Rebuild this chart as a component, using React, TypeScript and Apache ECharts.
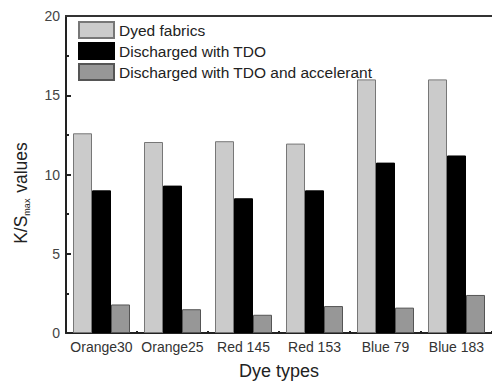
import React, { useEffect, useRef } from "react";
import * as echarts from "echarts";

const categories = ["Orange30", "Orange25", "Red 145", "Red 153", "Blue 79", "Blue 183"];
const dyed = [12.6, 12.05, 12.1, 11.95, 16.0, 16.0];
const discharged = [9.0, 9.3, 8.5, 9.0, 10.75, 11.2];
const accelerant = [1.8, 1.5, 1.15, 1.7, 1.6, 2.4];
const seriesNames = ["Dyed fabrics", "Discharged with TDO", "Discharged with TDO and accelerant"];

const FONT = "Liberation Sans, Arial, sans-serif";

export default function App() {
  const ref = useRef<HTMLDivElement>(null);
  useEffect(() => {
    if (!ref.current) return;
    const chart = echarts.init(ref.current, undefined, { renderer: "svg" });
    const barBase = { type: "bar" as const, barWidth: 19, barGap: "0%" };
    chart.setOption({
      animation: false,
      backgroundColor: "#ffffff",
      textStyle: { fontFamily: FONT },
      grid: { left: 66, right: -10, top: 16, bottom: 49, containLabel: false },
      legend: {
        left: 78,
        top: 21,
        padding: 0,
        orient: "vertical",
        icon: "rect",
        itemWidth: 35,
        itemHeight: 16,
        itemGap: 3,
        textStyle: { fontFamily: FONT, fontSize: 15.5, color: "#222" },
        data: seriesNames,
      },
      xAxis: {
        type: "category",
        data: categories,
        name: "Dye types",
        nameLocation: "middle",
        nameGap: 29,
        nameTextStyle: { fontFamily: FONT, fontSize: 18, color: "#222" },
        axisLine: { show: true, lineStyle: { color: "#222", width: 2 } },
        axisTick: { show: true, inside: true, length: 2, alignWithLabel: false, lineStyle: { color: "#222", width: 2 } },
        axisLabel: { interval: 0, fontFamily: FONT, fontSize: 14, color: "#333", margin: 7 },
        splitLine: { show: false },
      },
      yAxis: {
        type: "value",
        min: 0,
        max: 20,
        interval: 5,
        axisLine: { show: true, lineStyle: { color: "#222", width: 2 } },
        axisTick: { show: true, inside: true, length: 5, lineStyle: { color: "#222", width: 2 } },
        minorTick: { show: true, splitNumber: 2, length: 3, lineStyle: { color: "#222", width: 2 } },
        axisLabel: { fontFamily: FONT, fontSize: 14, color: "#444", margin: 6 },
        splitLine: { show: false },
      },
      graphic: [
        {
          type: "line",
          shape: { x1: 65, y1: 16, x2: 492, y2: 16 },
          style: { stroke: "#333", lineWidth: 2 },
          z: 10,
        },
        {
          type: "text",
          x: 21,
          y: 193,
          rotation: Math.PI / 2,
          style: {
            text: "K/S{sub|max} values",
            align: "center",
            verticalAlign: "middle",
            fontFamily: FONT,
            fontSize: 17.5,
            fill: "#222",
            rich: {
              sub: { fontSize: 9, fontFamily: FONT, fill: "#222", padding: [11, 1, 0, 0] },
            },
          },
        },
      ],
      series: [
        {
          ...barBase,
          name: seriesNames[0],
          data: dyed,
          itemStyle: { color: "#cbcbcb", borderColor: "#777", borderWidth: 1 },
        },
        {
          ...barBase,
          name: seriesNames[1],
          data: discharged,
          itemStyle: { color: "#000000", borderColor: "#000", borderWidth: 1 },
        },
        {
          ...barBase,
          name: seriesNames[2],
          data: accelerant,
          itemStyle: { color: "#979797", borderColor: "#555", borderWidth: 1 },
        },
      ],
    });
    return () => chart.dispose();
  }, []);
  return <div ref={ref} style={{ width: 492, height: 385, position: "absolute", left: 0, top: 0 }} />;
}
